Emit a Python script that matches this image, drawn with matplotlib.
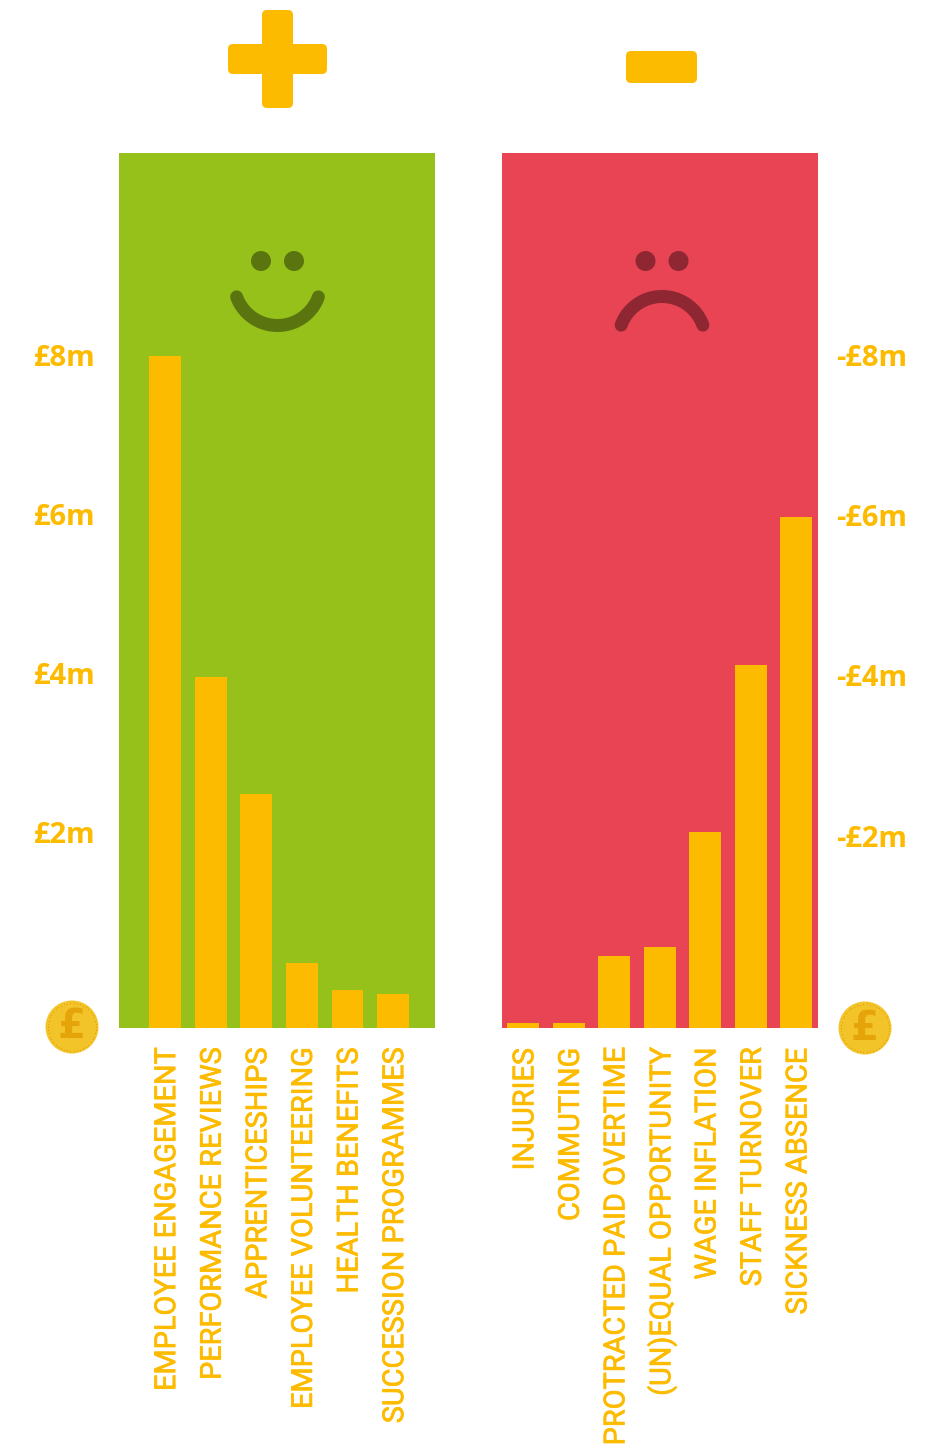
import numpy as np
import matplotlib
matplotlib.use("Agg")
import matplotlib.pyplot as plt
import matplotlib.patheffects as pe
from matplotlib.transforms import ScaledTranslation
from matplotlib.patches import FancyBboxPatch, Circle

gain_labels = ["EMPLOYEE ENGAGEMENT", "PERFORMANCE REVIEWS", "APPRENTICESHIPS",
               "EMPLOYEE VOLUNTEERING", "HEALTH BENEFITS", "SUCCESSION PROGRAMMES"]
gain_values = [8.0, 4.18, 2.79, 0.77, 0.45, 0.40]
loss_labels = ["INJURIES", "COMMUTING", "PROTRACTED PAID OVERTIME", "(UN)EQUAL OPPORTUNITY",
               "WAGE INFLATION", "STAFF TURNOVER", "SICKNESS ABSENCE"]
loss_values = [0.06, 0.06, 0.86, 0.96, 2.33, 4.32, 6.08]
gain_tick_pos = [8.0, 6.11, 4.21, 2.32]
gain_tick_labels = ["£8m", "£6m", "£4m", "£2m"]
loss_tick_pos = [8.0, 6.10, 4.19, 2.27]
loss_tick_labels = ["-£8m", "-£6m", "-£4m", "-£2m"]

AMBER, GREEN, RED = "#FDBB00", "#95C11A", "#E94454"
DGREEN, DRED = "#5A7510", "#8E2732"
COIN, COIN_D = "#F3C42A", "#E5A50A"
W, H = 929, 1448
LABEL_FONT = ["Liberation Sans Narrow", "Roboto", "DejaVu Sans"]
TICK_FONT = ["Open Sans", "DejaVu Sans"]
px = 72 / 100

fig = plt.figure(figsize=(W / 100, H / 100), dpi=100, facecolor="white")

def panel(x0, x1, color, vals, labs, tpos, tlabs, xlim, side, pad):
    ax = fig.add_axes([x0 / W, 1 - 1028 / H, (x1 - x0) / W, (1028 - 153) / H], facecolor=color)
    ax.bar(np.arange(len(vals)), vals, width=0.70, color=AMBER, linewidth=0)
    ax.set_xlim(*xlim)
    ax.set_ylim(0, 875 / 84)
    ax.set_xticks(np.arange(len(vals)))
    ax.set_xticklabels(labs, rotation=90, family=LABEL_FONT, fontsize=20.8, color=AMBER)
    ax.set_yticks(tpos)
    ax.set_yticklabels(tlabs, family=TICK_FONT, fontsize=21, fontweight="bold", color=AMBER)
    ax.tick_params(axis="x", length=0, pad=20 * px)
    ax.tick_params(axis="y", length=0, pad=pad * px)
    if side == "right":
        ax.yaxis.tick_right()
    shift = ScaledTranslation(2 / 100, 0, fig.dpi_scale_trans)
    for t in ax.get_xticklabels():
        t.set_transform(t.get_transform() + shift)
        t.set_path_effects([pe.withStroke(linewidth=0.5, foreground=AMBER)])
    lift = ScaledTranslation(0, 1 / 100, fig.dpi_scale_trans)
    for t in ax.get_yticklabels():
        t.set_transform(t.get_transform() + lift)
    for s in ax.spines.values():
        s.set_visible(False)
    return ax

panel(119.3, 435.3, GREEN, gain_values, gain_labels, gain_tick_pos, gain_tick_labels,
      (-1.005, 5.925), "left", 23.5)
panel(501.8, 817.8, RED, loss_values, loss_labels, loss_tick_pos, loss_tick_labels,
      (-0.4725, 6.47), "right", 18.5)

# Decoration layer in pixel coordinates
deco = fig.add_axes([0, 0, 1, 1], facecolor="none")
deco.set_xlim(0, W)
deco.set_ylim(H, 0)
deco.axis("off")

def rrect(x0, y0, x1, y1, r=5):
    deco.add_patch(FancyBboxPatch((x0 + r, y0 + r), x1 - x0 - 2 * r, y1 - y0 - 2 * r,
                                  boxstyle=f"round,pad={r},rounding_size={r}",
                                  fc=AMBER, ec="none"))

rrect(262, 10, 293, 108)
rrect(228, 44, 327, 74)
rrect(626, 51, 697, 83)

def face(cx, color, smile):
    for ex in (cx - 16.5, cx + 16.5):
        deco.add_patch(Circle((ex, 261), 10, fc=color, ec="none"))
    t = np.radians(np.linspace(-70, 70, 60))
    R = 43.5
    if smile:
        xs, ys = cx + R * np.sin(t), 282 + R * np.cos(t)
    else:
        xs, ys = cx + R * np.sin(t), 340 - R * np.cos(t)
    deco.plot(xs, ys, color=color, lw=13 * px, solid_capstyle="round")

face(277.5, DGREEN, True)
face(662, DRED, False)

def coin(cx, cy):
    deco.add_patch(Circle((cx, cy), 26.5, fc=COIN, ec="none"))
    a = np.linspace(0, 2 * np.pi, 46, endpoint=False)
    deco.scatter(cx + 24 * np.cos(a), cy + 24 * np.sin(a), s=1.0, color=COIN_D, linewidths=0)
    deco.text(cx, cy + 0.5, "£", ha="center", va="center", fontsize=29, fontweight="bold",
              family=["DejaVu Sans"], color=COIN_D)

coin(72, 1027)
coin(865, 1028)

fig.savefig("out.png", dpi=100)
